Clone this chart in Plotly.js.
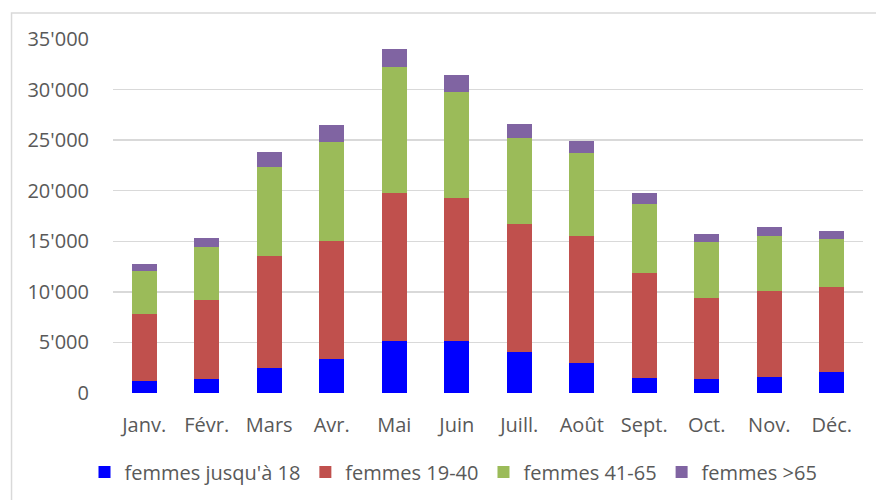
<!DOCTYPE html>
<html>
<head>
<meta charset="utf-8">
<script src="https://cdn.plot.ly/plotly-3.0.1.min.js"></script>
<style>html,body{margin:0;padding:0;background:#fff;}#chart{width:876px;height:500px;}</style>
</head>
<body>
<div id="chart"></div>
<script>
const months = ["Janv.", "Févr.", "Mars", "Avr.", "Mai", "Juin", "Juill.", "Août", "Sept.", "Oct.", "Nov.", "Déc."];
const seriesNames = ["femmes jusqu'à 18", "femmes 19-40", "femmes 41-65", "femmes >65"];
const under18 = [1150, 1350, 2500, 3400, 5150, 5100, 4100, 3000, 1500, 1400, 1550, 2050];
const age19to40 = [6700, 7800, 11000, 11650, 14650, 14150, 12600, 12500, 10350, 7950, 8550, 8450];
const age41to65 = [4200, 5300, 8850, 9800, 12400, 10500, 8550, 8200, 6800, 5600, 5400, 4700];
const over65 = [720, 900, 1480, 1600, 1800, 1650, 1300, 1180, 1100, 800, 900, 850];
const colors = ["#0000ff", "#c0504d", "#9bbb59", "#8064a2"];

const values = [under18, age19to40, age41to65, over65];
const traces = values.map((v, i) => ({
  type: "bar",
  x: months,
  y: v,
  name: seriesNames[i],
  marker: {color: colors[i], line: {width: 0}},
  hoverinfo: "x+y+name"
}));

const font = {family: "'Open Sans', 'Noto Sans', sans-serif", size: 20, color: "#595959"};
const layout = {
  width: 876, height: 500,
  margin: {l: 113, r: 13, t: 39, b: 107, autoexpand: false},
  barmode: "stack",
  bargap: 0.6,
  separators: ".'",
  font: font,
  paper_bgcolor: "#ffffff",
  plot_bgcolor: "#ffffff",
  showlegend: true,
  legend: {orientation: "h", x: 0.454, xanchor: "center", y: 1 - (472 - 39) / 354, yanchor: "middle",
           font: font, traceorder: "normal"},
  xaxis: {type: "category", showgrid: false, zeroline: false, showline: false,
          ticks: "", ticklabelstandoff: 18, tickfont: font},
  yaxis: {range: [0, 35000], dtick: 5000, tick0: 0, tickformat: ",d",
          showgrid: true, gridcolor: "#d9d9d9", gridwidth: 1.3, zeroline: false, showline: false,
          ticks: "", ticklabelstandoff: 23, tickfont: font},
  shapes: [{type: "rect", xref: "paper", yref: "paper",
            x0: -0.1353, x1: 1.2, y0: -0.5, y1: 1.0734,
            line: {color: "#d9d9d9", width: 1.5}, fillcolor: "rgba(0,0,0,0)", layer: "below"}]
};
Plotly.newPlot("chart", traces, layout, {displayModeBar: false, staticPlot: true});
</script>
</body>
</html>
